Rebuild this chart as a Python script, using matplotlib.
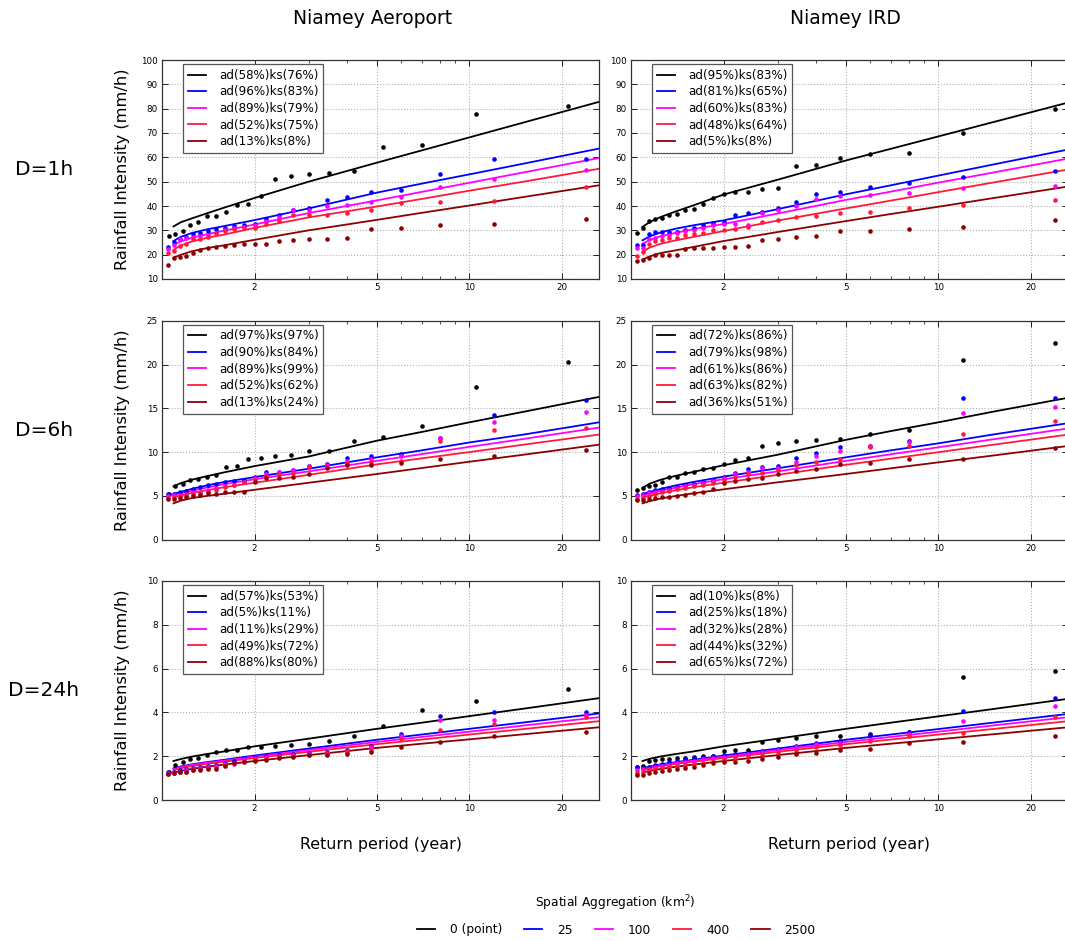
import matplotlib
matplotlib.use('Agg')
import matplotlib.pyplot as plt
from matplotlib.ticker import FixedLocator, LogLocator, NullFormatter
from matplotlib.lines import Line2D

# return periods (years) of the empirical points
T_point_aero = [21.0, 10.5, 7.0, 5.25, 4.2, 3.5, 3.0, 2.625, 2.333, 2.1, 1.909, 1.75,
                1.615, 1.5, 1.4, 1.312, 1.235, 1.167, 1.105, 1.05]
T_obs = [24.0, 12.0, 8.0, 6.0, 4.8, 4.0, 3.429, 3.0, 2.667, 2.4, 2.182, 2.0, 1.846,
         1.714, 1.6, 1.5, 1.412, 1.333, 1.263, 1.2, 1.143, 1.091, 1.043]
# return periods where the fitted curves were read
T_fit = [1.09, 1.15, 1.25, 1.4, 1.6, 2, 3, 5, 7, 10, 15, 26.4]

colors = ['#000000', '#0000ff', '#ff00ff', '#ff1a3c', '#8b0000']
areas = ['0 (point)', '25', '100', '400', '2500']

# ---- Niamey Aeroport, D=1h
aero_1h_pts = [
    [81.0, 78.0, 65.2, 64.4, 54.5, 53.7, 53.0, 52.3, 51.2, 44.1, 40.7, 40.5, 37.6, 35.8, 35.7, 33.5, 32.1, 29.7, 28.6, 27.6],
    [59.3, 59.3, 53.0, 46.5, 45.8, 43.5, 42.4, 39.0, 38.4, 36.2, 34.7, 32.4, 32.1, 31.6, 31.0, 30.4, 29.7, 29.1, 28.3, 27.3, 26.5, 25.2, 23.1],
    [54.7, 51.0, 47.9, 43.5, 41.6, 40.4, 40.0, 38.3, 38.2, 35.5, 33.8, 32.0, 31.5, 31.0, 30.0, 29.0, 28.0, 27.5, 27.2, 26.9, 26.5, 23.8, 22.2],
    [47.8, 42.2, 41.8, 41.1, 38.2, 37.1, 36.5, 36.3, 36.3, 33.8, 32.6, 31.0, 30.9, 30.4, 29.7, 28.8, 27.2, 26.5, 26.5, 24.5, 23.5, 21.7, 20.7],
    [34.5, 32.6, 32.1, 30.8, 30.5, 26.8, 26.5, 26.5, 26.0, 25.7, 24.5, 24.2, 24.2, 23.9, 23.5, 23.2, 22.9, 21.8, 20.7, 19.6, 19.2, 18.7, 15.9],
]
aero_1h_fit = [
    [31.6, 33.3, 34.9, 37.0, 39.4, 43.3, 50.0, 57.8, 62.85, 68.2, 74.3, 82.8],
    [25.6, 27.3, 28.9, 30.4, 31.8, 34.2, 39.0, 45.5, 49.2, 53.0, 57.4, 63.6],
    [24.0, 25.4, 27.0, 28.4, 29.9, 32.4, 37.1, 42.3, 45.8, 49.55, 53.8, 59.7],
    [22.0, 23.8, 25.4, 26.9, 28.3, 31.0, 35.3, 39.8, 42.9, 46.3, 50.0, 55.3],
    [18.8, 19.9, 21.4, 22.7, 23.9, 26.1, 30.0, 34.3, 37.2, 40.2, 43.7, 48.5],
]
aero_1h_leg = ['ad(58%)ks(76%)', 'ad(96%)ks(83%)', 'ad(89%)ks(79%)', 'ad(52%)ks(75%)', 'ad(13%)ks(8%)']

# ---- Niamey IRD, D=1h
ird_1h_pts = [
    [79.7, 69.8, 61.8, 61.4, 59.6, 56.8, 56.3, 47.3, 47.0, 45.9, 45.9, 44.9, 43.3, 41.0, 38.6, 38.2, 36.8, 36.2, 34.9, 34.5, 34.0, 31.1, 28.9],
    [54.5, 51.8, 49.5, 47.7, 45.9, 45.1, 41.6, 39.3, 37.5, 37.3, 36.2, 33.6, 33.2, 32.3, 31.1, 30.0, 29.4, 29.2, 29.2, 29.2, 28.6, 23.8, 24.1],
    [48.3, 47.3, 45.3, 44.4, 44.0, 42.8, 40.0, 38.5, 37.2, 32.1, 32.5, 32.5, 32.1, 31.1, 30.0, 29.6, 28.9, 28.2, 27.5, 27.0, 26.3, 22.9, 22.9],
    [42.4, 40.4, 39.2, 37.4, 37.1, 36.0, 35.6, 34.2, 33.6, 31.5, 30.4, 30.0, 30.0, 28.9, 28.4, 27.9, 27.0, 26.7, 25.9, 25.8, 24.2, 21.1, 19.6],
    [34.2, 31.2, 30.4, 29.9, 29.9, 27.5, 27.1, 26.6, 26.2, 23.6, 23.3, 23.2, 22.9, 22.9, 22.9, 22.5, 20.0, 19.7, 19.7, 19.7, 18.6, 17.7, 17.4],
]
ird_1h_fit = [
    [31.4, 33.4, 35.5, 37.8, 40.3, 44.7, 50.8, 58.7, 63.5, 68.6, 74.4, 82.5],
    [25.9, 27.5, 29.2, 30.7, 32.1, 34.1, 38.7, 44.8, 48.5, 52.5, 57.0, 63.2],
    [24.5, 26.0, 27.6, 29.0, 30.5, 32.6, 36.9, 42.5, 45.9, 49.6, 53.7, 59.5],
    [21.1, 22.9, 24.5, 25.9, 27.3, 29.7, 34.0, 39.0, 42.2, 45.7, 49.6, 55.0],
    [18.0, 19.3, 20.7, 21.8, 23.2, 25.6, 29.3, 33.8, 36.7, 39.7, 43.2, 48.0],
]
ird_1h_leg = ['ad(95%)ks(83%)', 'ad(81%)ks(65%)', 'ad(60%)ks(83%)', 'ad(48%)ks(64%)', 'ad(5%)ks(8%)']

# ---- Niamey Aeroport, D=6h
aero_6h_pts = [
    [20.3, 17.4, 13.0, 11.7, 11.25, 10.1, 10.1, 9.7, 9.5, 9.3, 9.2, 8.4, 8.3, 7.4, 7.15, 6.9, 6.8, 6.35, 6.1, 5.2],
    [16.0, 14.2, 11.6, 9.8, 9.5, 9.3, 8.6, 8.45, 7.95, 7.75, 7.7, 7.15, 6.85, 6.7, 6.55, 6.4, 6.2, 6.0, 5.8, 5.6, 5.45, 5.25, 5.25],
    [14.55, 13.4, 11.6, 9.5, 9.2, 9.0, 8.5, 8.4, 7.9, 7.7, 7.5, 7.0, 6.6, 6.3, 6.15, 5.95, 5.7, 5.5, 5.4, 5.25, 5.15, 5.1, 5.0],
    [12.8, 12.5, 11.3, 9.0, 8.9, 8.8, 8.3, 8.3, 7.6, 7.5, 7.3, 6.8, 6.6, 6.2, 6.0, 5.7, 5.5, 5.35, 5.2, 5.05, 4.95, 4.85, 4.75],
    [10.2, 9.5, 9.2, 8.7, 8.5, 8.5, 8.2, 7.5, 7.2, 7.1, 7.0, 6.6, 5.5, 5.45, 5.4, 5.25, 5.3, 5.05, 5.0, 4.9, 4.8, 4.7, 4.7],
]
aero_6h_fit = [
    [6.1, 6.45, 6.85, 7.25, 7.7, 8.4, 9.5, 11.3, 12.3, 13.4, 14.6, 16.3],
    [5.25, 5.45, 5.8, 6.2, 6.6, 7.15, 8.1, 9.4, 10.2, 11.1, 12.0, 13.4],
    [5.1, 5.3, 5.6, 5.95, 6.35, 6.9, 7.8, 9.0, 9.77, 10.6, 11.5, 12.8],
    [4.85, 5.05, 5.35, 5.65, 6.0, 6.5, 7.4, 8.6, 9.29, 10.0, 10.85, 12.0],
    [4.15, 4.45, 4.75, 5.0, 5.25, 5.7, 6.5, 7.5, 8.18, 8.9, 9.7, 10.85],
]
aero_6h_leg = ['ad(97%)ks(97%)', 'ad(90%)ks(84%)', 'ad(89%)ks(99%)', 'ad(52%)ks(62%)', 'ad(13%)ks(24%)']

# ---- Niamey IRD, D=6h
ird_6h_pts = [
    [22.5, 20.5, 12.5, 12.1, 11.55, 11.4, 11.3, 11.05, 10.75, 9.35, 9.05, 8.6, 8.2, 8.1, 7.7, 7.65, 7.15, 7.15, 6.6, 6.3, 6.1, 5.95, 5.65],
    [16.2, 16.2, 11.25, 10.75, 10.6, 9.9, 9.3, 8.4, 8.3, 8.1, 7.65, 7.15, 6.8, 6.55, 6.4, 6.2, 6.05, 5.95, 5.8, 5.65, 5.5, 5.2, 5.1],
    [15.2, 14.5, 11.15, 10.7, 10.1, 9.6, 8.9, 8.2, 8.2, 7.7, 7.5, 7.0, 6.7, 6.45, 6.3, 6.1, 5.9, 5.7, 5.55, 5.4, 5.3, 5.05, 5.0],
    [13.6, 12.05, 10.7, 10.55, 9.2, 8.9, 8.5, 7.9, 7.6, 7.5, 7.2, 6.8, 6.5, 6.3, 6.1, 5.9, 5.75, 5.55, 5.4, 5.2, 5.0, 4.8, 4.7],
    [10.5, 9.25, 9.2, 8.7, 8.6, 8.1, 7.8, 7.55, 7.1, 6.9, 6.7, 6.5, 5.75, 5.45, 5.3, 5.1, 4.95, 4.85, 4.85, 4.75, 4.6, 4.5, 4.5],
]
ird_6h_fit = [
    [5.9, 6.4, 6.85, 7.3, 7.75, 8.5, 9.7, 11.4, 12.4, 13.4, 14.6, 16.2],
    [5.2, 5.45, 5.8, 6.2, 6.6, 7.2, 8.15, 9.4, 10.2, 11.0, 12.0, 13.3],
    [5.0, 5.25, 5.6, 5.95, 6.35, 6.9, 7.8, 9.0, 9.75, 10.55, 11.45, 12.7],
    [4.8, 5.0, 5.3, 5.65, 6.0, 6.5, 7.4, 8.55, 9.25, 9.99, 10.83, 12.0],
    [4.15, 4.4, 4.7, 5.0, 5.3, 5.75, 6.55, 7.5, 8.15, 8.83, 9.6, 10.7],
]
ird_6h_leg = ['ad(72%)ks(86%)', 'ad(79%)ks(98%)', 'ad(61%)ks(86%)', 'ad(63%)ks(82%)', 'ad(36%)ks(51%)']

# ---- Niamey Aeroport, D=24h
aero_24h_pts = [
    [5.05, 4.5, 4.1, 3.4, 2.9, 2.7, 2.57, 2.52, 2.45, 2.4, 2.4, 2.3, 2.3, 2.2, 2.05, 1.92, 1.85, 1.75, 1.6, 1.3],
    [4.0, 4.0, 3.85, 3.0, 2.45, 2.3, 2.2, 2.15, 2.1, 2.05, 2.0, 1.95, 1.9, 1.8, 1.7, 1.6, 1.55, 1.5, 1.45, 1.4, 1.35, 1.3, 1.3],
    [3.9, 3.65, 3.65, 2.9, 2.4, 2.25, 2.15, 2.1, 2.05, 2.0, 1.95, 1.9, 1.85, 1.65, 1.65, 1.55, 1.5, 1.45, 1.4, 1.35, 1.3, 1.25, 1.25],
    [3.8, 3.45, 3.2, 2.8, 2.3, 2.2, 2.1, 2.05, 2.0, 1.95, 1.9, 1.85, 1.8, 1.7, 1.6, 1.5, 1.45, 1.4, 1.35, 1.3, 1.3, 1.25, 1.2],
    [3.1, 2.9, 2.65, 2.4, 2.2, 2.1, 2.05, 2.05, 1.97, 1.9, 1.82, 1.78, 1.75, 1.7, 1.55, 1.42, 1.4, 1.38, 1.35, 1.3, 1.28, 1.22, 1.18],
]
aero_24h_fit = [
    [1.78, 1.87, 1.98, 2.1, 2.22, 2.45, 2.8, 3.25, 3.53, 3.83, 4.17, 4.65],
    [1.45, 1.53, 1.63, 1.73, 1.84, 2.03, 2.35, 2.75, 2.99, 3.25, 3.54, 3.95],
    [1.42, 1.5, 1.6, 1.7, 1.8, 1.98, 2.28, 2.65, 2.88, 3.12, 3.4, 3.78],
    [1.37, 1.45, 1.55, 1.65, 1.75, 1.92, 2.2, 2.55, 2.76, 2.99, 3.24, 3.6],
    [1.25, 1.33, 1.42, 1.52, 1.62, 1.78, 2.05, 2.38, 2.57, 2.77, 3.0, 3.32],
]
aero_24h_leg = ['ad(57%)ks(53%)', 'ad(5%)ks(11%)', 'ad(11%)ks(29%)', 'ad(49%)ks(72%)', 'ad(88%)ks(80%)']

# ---- Niamey IRD, D=24h
ird_24h_pts = [
    [5.9, 5.6, 3.1, 3.0, 2.9, 2.9, 2.85, 2.75, 2.65, 2.3, 2.3, 2.25, 2.0, 2.0, 1.97, 1.9, 1.9, 1.87, 1.87, 1.82, 1.8, 1.55, 1.52],
    [4.65, 4.05, 3.1, 2.95, 2.7, 2.6, 2.45, 2.35, 2.25, 2.15, 2.1, 2.05, 2.0, 1.95, 1.9, 1.85, 1.8, 1.75, 1.65, 1.6, 1.5, 1.45, 1.5],
    [4.3, 3.6, 3.0, 2.75, 2.6, 2.55, 2.4, 2.3, 2.2, 2.1, 2.0, 1.95, 1.9, 1.85, 1.8, 1.75, 1.7, 1.6, 1.55, 1.5, 1.4, 1.4, 1.35],
    [3.8, 3.05, 2.9, 2.7, 2.5, 2.4, 2.3, 2.2, 2.1, 2.0, 1.9, 1.85, 1.8, 1.7, 1.65, 1.6, 1.55, 1.5, 1.45, 1.4, 1.35, 1.3, 1.25],
    [2.9, 2.65, 2.6, 2.35, 2.3, 2.15, 2.1, 1.98, 1.85, 1.78, 1.75, 1.72, 1.7, 1.6, 1.52, 1.45, 1.4, 1.38, 1.33, 1.3, 1.22, 1.15, 1.15],
]
ird_24h_fit = [
    [1.78, 1.88, 1.99, 2.1, 2.22, 2.45, 2.8, 3.25, 3.53, 3.82, 4.15, 4.62],
    [1.45, 1.53, 1.63, 1.73, 1.84, 2.03, 2.35, 2.75, 2.99, 3.24, 3.53, 3.93],
    [1.42, 1.5, 1.6, 1.7, 1.8, 1.98, 2.28, 2.65, 2.88, 3.12, 3.4, 3.78],
    [1.37, 1.45, 1.55, 1.65, 1.75, 1.92, 2.2, 2.55, 2.76, 2.99, 3.24, 3.6],
    [1.25, 1.33, 1.42, 1.52, 1.62, 1.78, 2.05, 2.38, 2.57, 2.77, 3.0, 3.32],
]
ird_24h_leg = ['ad(10%)ks(8%)', 'ad(25%)ks(18%)', 'ad(32%)ks(28%)', 'ad(44%)ks(32%)', 'ad(65%)ks(72%)']

stations = ['Niamey Aeroport', 'Niamey IRD']
durations = ['D=1h', 'D=6h', 'D=24h']
ylims = [(10, 100), (0, 25), (0, 10)]
ysteps = [10, 5, 2]

panels = [
    [(aero_1h_pts, aero_1h_fit, aero_1h_leg, T_point_aero), (ird_1h_pts, ird_1h_fit, ird_1h_leg, T_obs)],
    [(aero_6h_pts, aero_6h_fit, aero_6h_leg, T_point_aero), (ird_6h_pts, ird_6h_fit, ird_6h_leg, T_obs)],
    [(aero_24h_pts, aero_24h_fit, aero_24h_leg, T_point_aero), (ird_24h_pts, ird_24h_fit, ird_24h_leg, T_obs)],
]

W, H = 1065, 941
fig = plt.figure(figsize=(W / 100, H / 100), dpi=100)

ax_left = [162, 631]
ax_top = [60, 320.7, 581]
ax_w, ax_h = 437, 219

for r in range(3):
    for c in range(2):
        pts, fit, leg, T_black = panels[r][c]
        ax = fig.add_axes([ax_left[c] / W, 1 - (ax_top[r] + ax_h) / H, ax_w / W, ax_h / H])
        ax.set_xscale('log')
        handles = []
        for k in range(5):
            ln, = ax.plot(T_fit, fit[k], color=colors[k], lw=1.3, zorder=2)
            handles.append(ln)
        for k in range(5):
            xs = T_black if k == 0 else T_obs
            ax.plot(xs, pts[k], 'o', color=colors[k], ms=3.3, mew=0, zorder=3)
        ax.set_xlim(1.0, 26.4)
        lo, hi = ylims[r]
        ax.set_ylim(lo, hi)
        ax.set_yticks(range(lo, hi + 1, ysteps[r]))
        ax.xaxis.set_major_locator(FixedLocator([2, 5, 10, 20]))
        ax.set_xticklabels(['2', '5', '10', '20'])
        ax.xaxis.set_minor_locator(LogLocator(base=10, subs=range(2, 10)))
        ax.xaxis.set_minor_formatter(NullFormatter())
        ax.tick_params(which='both', direction='in', top=True, right=True, labelsize=6.3, pad=3)
        ax.tick_params(which='major', length=4, width=0.6)
        ax.tick_params(which='minor', length=2, width=0.5)
        ax.grid(True, which='major', color='#b0b0b0', linestyle=':', linewidth=0.8)
        for s in ax.spines.values():
            s.set_color('#333333')
            s.set_linewidth(0.9)
        lg = ax.legend(handles, leg, loc='upper left', bbox_to_anchor=(21 / ax_w, 1 - 4 / ax_h),
                       borderaxespad=0, fontsize=8.6, handlelength=1.5, handletextpad=1.1,
                       labelspacing=0.3, borderpad=0.4, fancybox=False, framealpha=1)
        lg.get_frame().set_edgecolor('#555555')
        lg.get_frame().set_linewidth(0.9)
        if c == 0:
            fig.text(122 / W, 1 - (ax_top[r] + ax_h / 2) / H, 'Rainfall Intensity (mm/h)',
                     rotation=90, ha='center', va='center', fontsize=11.7)

for c, name in enumerate(stations):
    fig.text((373 if c == 0 else 845) / W, 1 - 18 / H, name, ha='center', va='center', fontsize=13.5)
    fig.text((ax_left[c] + ax_w / 2) / W, 1 - 845 / H, 'Return period (year)',
             ha='center', va='center', fontsize=11.4)

for r, d in enumerate(durations):
    fig.text(44 / W, 1 - (ax_top[r] + ax_h / 2) / H, d, ha='center', va='center', fontsize=14.5)

fig.text(615 / W, 1 - 903 / H, 'Spatial Aggregation (km$^2$)', ha='center', va='center', fontsize=8.8)
leg_handles = [Line2D([], [], color=col, lw=1.3) for col in colors]
fig.legend(leg_handles, areas, loc='center', bbox_to_anchor=(616 / W, 1 - 930 / H), ncol=5,
           frameon=False, fontsize=8.8, handlelength=1.5, handletextpad=1.2, columnspacing=1.8)

fig.savefig('out.png', dpi=100)
